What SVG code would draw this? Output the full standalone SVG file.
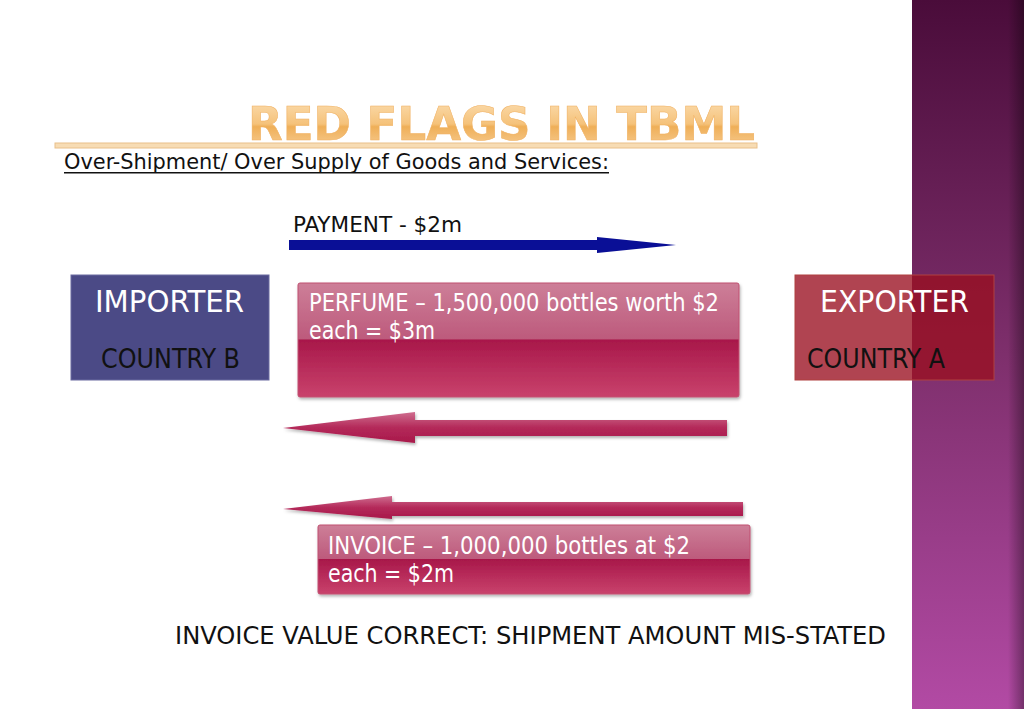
<svg xmlns="http://www.w3.org/2000/svg" width="1024" height="709" viewBox="0 0 1024 709">
<defs>
<linearGradient id="band" x1="0" y1="0" x2="0" y2="1">
<stop offset="0" stop-color="#4a0c3a"/>
<stop offset="0.5" stop-color="#7e2f6c"/>
<stop offset="1" stop-color="#b24aa4"/>
</linearGradient>
<linearGradient id="bandEdge" x1="0" y1="0" x2="1" y2="0">
<stop offset="0" stop-color="#000" stop-opacity="0"/>
<stop offset="1" stop-color="#000" stop-opacity="0.35"/>
</linearGradient>
<linearGradient id="title" x1="0" y1="0" x2="0" y2="1">
<stop offset="0" stop-color="#fcdfb4"/>
<stop offset="0.5" stop-color="#f5c27a"/>
<stop offset="0.55" stop-color="#efaf58"/>
<stop offset="1" stop-color="#f8d09a"/>
</linearGradient>
<linearGradient id="pink" x1="0" y1="0" x2="0" y2="1">
<stop offset="0" stop-color="#cd7f98"/>
<stop offset="0.49" stop-color="#bd5a7c"/>
<stop offset="0.5" stop-color="#a8184a"/>
<stop offset="1" stop-color="#c9426c"/>
</linearGradient>
<linearGradient id="shaft" x1="0" y1="0" x2="0" y2="1">
<stop offset="0" stop-color="#cf6d8f"/>
<stop offset="0.5" stop-color="#b42a5a"/>
<stop offset="1" stop-color="#a8184a"/>
</linearGradient>
<filter id="sh" x="-5%" y="-10%" width="110%" height="130%">
<feDropShadow dx="1" dy="2" stdDeviation="1.5" flood-color="#000" flood-opacity="0.3"/>
</filter>
</defs>
<style>
.t{font-family:"DejaVu Sans Condensed","DejaVu Sans",sans-serif}
.w{fill:#fff}
.k{fill:#111}
</style>
<rect width="1024" height="709" fill="#fff"/>
<rect x="912" y="0" width="112" height="709" fill="url(#band)"/>
<rect x="1008" y="0" width="16" height="709" fill="url(#bandEdge)"/>

<g id="title-block">
<text x="248" y="140" class="t" font-weight="bold" font-size="46" fill="url(#title)" textLength="507" lengthAdjust="spacingAndGlyphs" stroke="#f0b060" stroke-width="0.5">RED FLAGS IN TBML</text>
<rect x="55" y="143" width="702" height="5" fill="#f7dcb4" stroke="#e9c08a" stroke-width="1"/>
<text x="64" y="169" class="t k" font-size="22" textLength="545" lengthAdjust="spacingAndGlyphs">Over-Shipment/ Over Supply of Goods and Services:</text>
<rect x="64" y="172" width="545" height="1.5" fill="#111"/>
</g>

<g id="connectors">
<g id="payment-arrow">
<polygon points="289,240 597,240 597,237 676,245 597,253 597,250 289,250" fill="#0a0f96"/>
</g>
<g id="goods-arrow" filter="url(#sh)">
<polygon points="283,428 415,412 415,420 727,420 727,436 415,436 415,443" fill="url(#shaft)"/>
</g>
<g id="invoice-arrow" filter="url(#sh)">
<polygon points="283,509 392,496 392,502 743,502 743,516 392,516 392,519" fill="url(#shaft)"/>
</g>
</g>

<g id="payment-label">
<text x="293" y="232" class="t k" font-size="22" textLength="169" lengthAdjust="spacingAndGlyphs">PAYMENT - $2m</text>
</g>

<g id="importer">
<rect x="71" y="275" width="198" height="105" fill="#4b4a86" stroke="#6a6aa0" stroke-width="1"/>
<text x="95" y="312" class="t w" font-size="31" textLength="149" lengthAdjust="spacingAndGlyphs">IMPORTER</text>
<text x="101" y="368" class="t k" font-size="26" textLength="139" lengthAdjust="spacingAndGlyphs">COUNTRY B</text>
</g>

<g id="exporter">
<rect x="795" y="275" width="199" height="105" fill="#9a1020" fill-opacity="0.78" stroke="#b04040" stroke-width="1"/>
<text x="820" y="312" class="t w" font-size="31" textLength="149" lengthAdjust="spacingAndGlyphs">EXPORTER</text>
<text x="807" y="368" class="t k" font-size="26" textLength="138" lengthAdjust="spacingAndGlyphs">COUNTRY A</text>
</g>

<g id="perfume">
<rect x="298" y="283" width="441" height="114" rx="2" fill="url(#pink)" stroke="#c05070" stroke-width="1" filter="url(#sh)"/>
<text x="309" y="311" class="t w" font-size="24" textLength="410" lengthAdjust="spacingAndGlyphs">PERFUME – 1,500,000 bottles worth $2</text>
<text x="309" y="339" class="t w" font-size="24" textLength="126" lengthAdjust="spacingAndGlyphs">each = $3m</text>
</g>

<g id="invoice">
<rect x="318" y="525" width="432" height="69" rx="2" fill="url(#pink)" stroke="#c05070" stroke-width="1" filter="url(#sh)"/>
<text x="328" y="554" class="t w" font-size="24" textLength="362" lengthAdjust="spacingAndGlyphs">INVOICE – 1,000,000 bottles at $2</text>
<text x="328" y="582" class="t w" font-size="24" textLength="126" lengthAdjust="spacingAndGlyphs">each = $2m</text>
</g>

<g id="conclusion">
<text x="175" y="644" class="t k" font-size="25" textLength="711" lengthAdjust="spacingAndGlyphs">INVOICE VALUE CORRECT: SHIPMENT AMOUNT MIS-STATED</text>
</g>
</svg>
